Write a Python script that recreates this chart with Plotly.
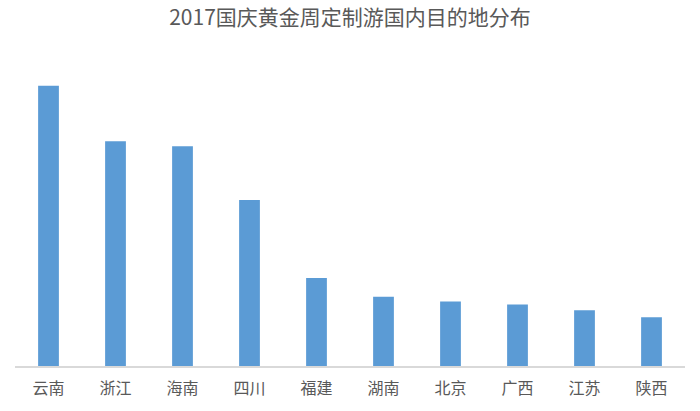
import plotly.graph_objects as go

# destinations and bar heights (relative units)
destinations = ["云南", "浙江", "海南", "四川", "福建", "湖南", "北京", "广西", "江苏", "陕西"]
counts = [287, 230, 225, 170, 90, 71, 66, 63, 57, 50]

title_text = "2017国庆黄金周定制游国内目的地分布"

fig = go.Figure()
fig.add_trace(go.Bar(x=destinations, y=counts, marker_color="#5B9BD5",
                     marker_line_width=0))

fig.update_layout(
    width=700, height=411,
    margin=dict(l=15, r=15, t=70, b=38),
    paper_bgcolor="white", plot_bgcolor="white",
    bargap=0.69,
    showlegend=False,
    font=dict(family="Noto Sans CJK SC", color="#595959"),
    title=dict(text=title_text, x=0.5, xanchor="center", y=0.975, yanchor="top",
               pad=dict(t=0, b=0),
               font=dict(size=21, color="#595959", family="Noto Sans CJK SC")),
)
fig.update_xaxes(showline=True, linecolor="#D9D9D9", linewidth=1.5,
                 ticks="", showgrid=False, ticklabelstandoff=7,
                 tickfont=dict(size=16, color="#595959"))
fig.update_yaxes(range=[0, 303], visible=False, showgrid=False, zeroline=False)

# drop the page's default body margin so the figure sits at the window corner
fig.write_html("out.html", config={"displayModeBar": False},
               post_script="document.body.style.margin='0';")
